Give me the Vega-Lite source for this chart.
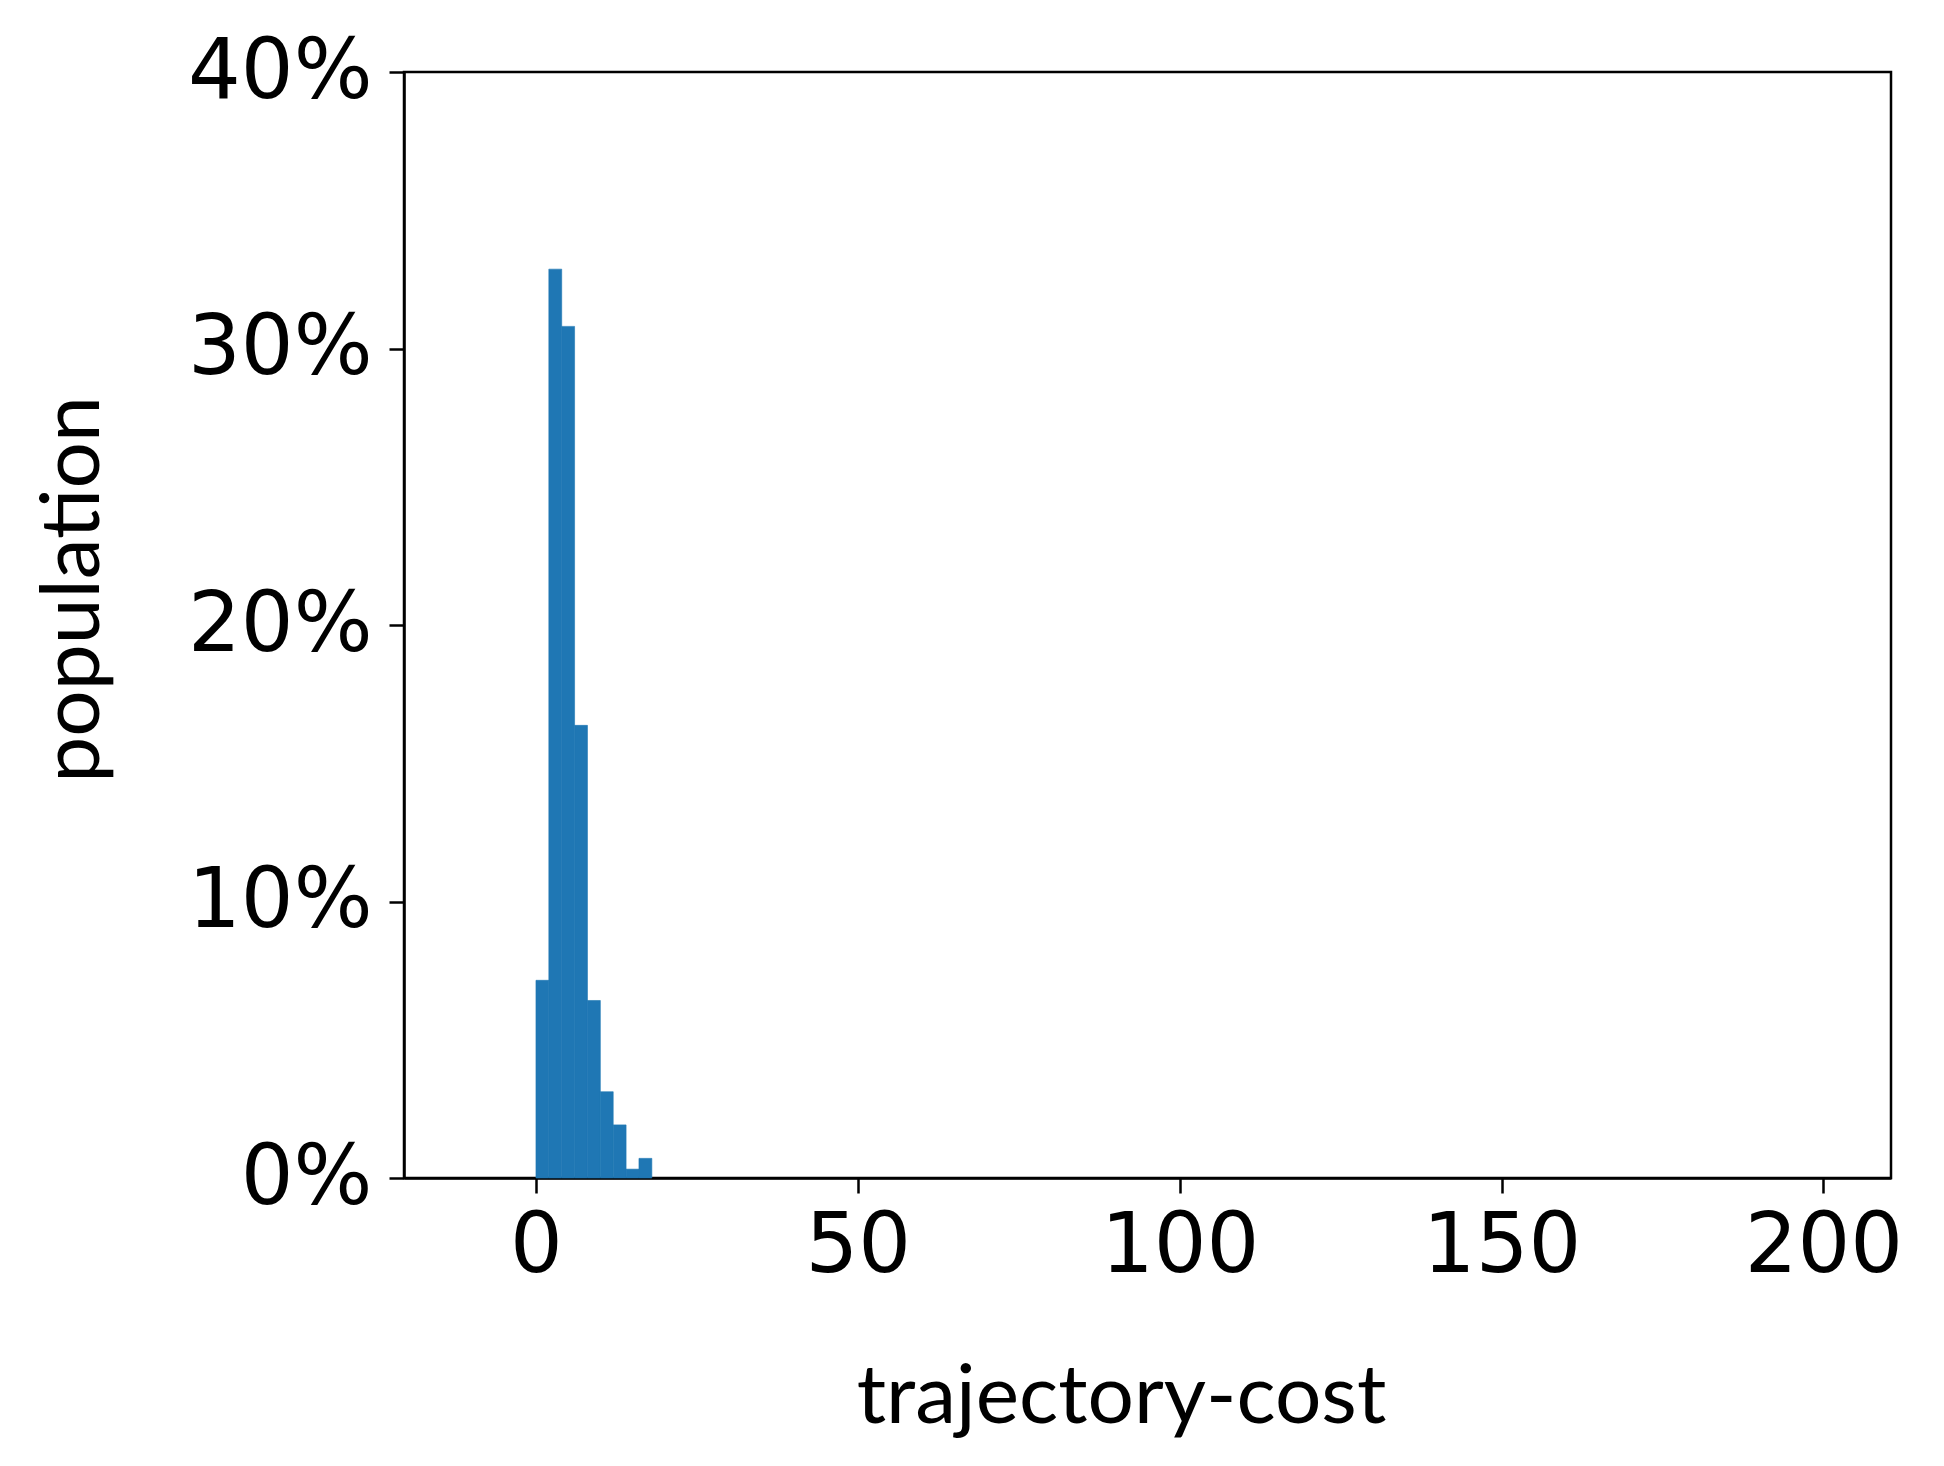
{
  "$schema": "https://vega.github.io/schema/vega-lite/v6.json",
  "autosize": {"type": "none"},
  "width": 1487,
  "height": 1106,
  "padding": {"left": 404, "top": 72, "right": 53, "bottom": 288},
  "background": "white",
  "config": {
    "view": {"stroke": "black", "strokeWidth": 2.5},
    "axis": {
      "grid": false,
      "domainColor": "black",
      "domainWidth": 2.5,
      "tickColor": "black",
      "tickWidth": 2.5,
      "tickSize": 15,
      "labelFont": "DejaVu Sans",
      "labelFontSize": 83,
      "labelColor": "black",
      "labelLimit": 0,
      "titleFont": "Lato",
      "titleFontSize": 82,
      "titleFontWeight": "normal",
      "titleColor": "black"
    }
  },
  "data": {
    "values": [
      {"bin_start": 0, "bin_end": 2, "share": 0.0715},
      {"bin_start": 2, "bin_end": 4, "share": 0.3287},
      {"bin_start": 4, "bin_end": 6, "share": 0.308},
      {"bin_start": 6, "bin_end": 8, "share": 0.1637},
      {"bin_start": 8, "bin_end": 10, "share": 0.0642},
      {"bin_start": 10, "bin_end": 12, "share": 0.0312},
      {"bin_start": 12, "bin_end": 14, "share": 0.0192},
      {"bin_start": 14, "bin_end": 16, "share": 0.0032},
      {"bin_start": 16, "bin_end": 18, "share": 0.0071}
    ]
  },
  "mark": {"type": "rect", "color": "#1f77b4", "stroke": "#1f77b4", "strokeWidth": 0.6},
  "encoding": {
    "x": {
      "field": "bin_start",
      "type": "quantitative",
      "scale": {"domain": [-20.5, 210.5], "nice": false, "zero": false},
      "axis": {
        "title": "trajectory-cost",
        "values": [0, 50, 100, 150, 200],
        "labelPadding": 12,
        "labelFlush": false,
        "titleX": 717,
        "titleY": 244,
        "titleAlign": "center",
        "titleBaseline": "alphabetic",
        "titleAnchor": null
      }
    },
    "x2": {"field": "bin_end"},
    "y": {
      "field": "share",
      "type": "quantitative",
      "scale": {"domain": [0, 0.4], "nice": false},
      "axis": {
        "title": "population",
        "values": [0, 0.1, 0.2, 0.3, 0.4],
        "format": ".0%",
        "labelPadding": 17,
        "labelFlush": false,
        "titleAngle": 270,
        "titleX": -306,
        "titleY": 517,
        "titleAlign": "center",
        "titleBaseline": "alphabetic"
      }
    },
    "y2": {"datum": 0}
  }
}
